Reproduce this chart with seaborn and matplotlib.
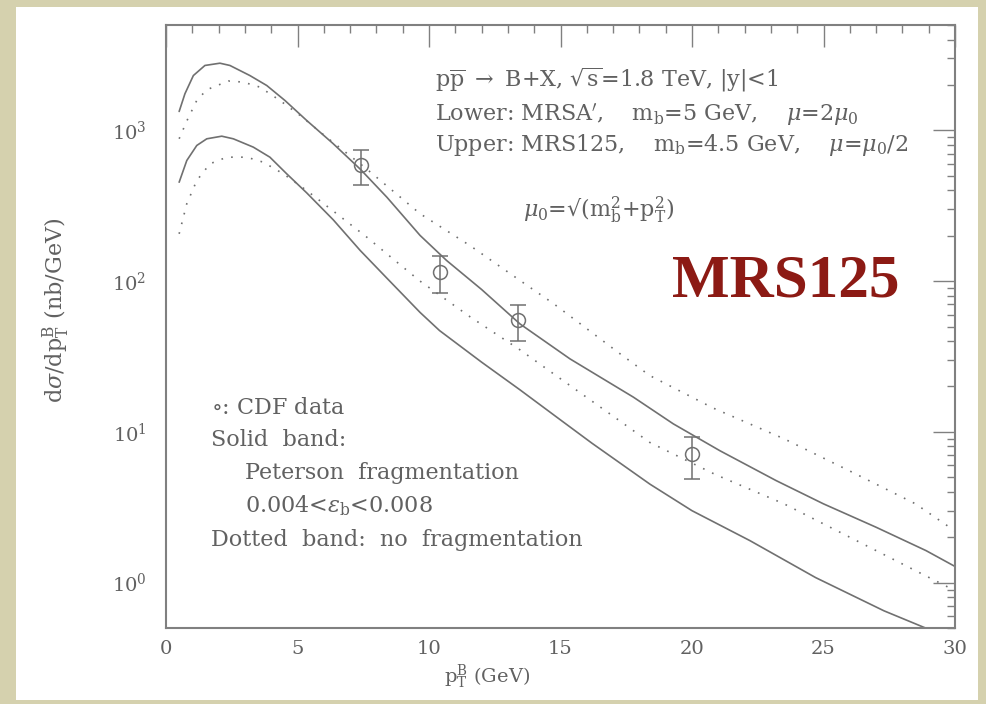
import numpy as np
import pandas as pd
import matplotlib
matplotlib.use("Agg")
import matplotlib.pyplot as plt
import seaborn as sns
from matplotlib.patches import Rectangle
from matplotlib.ticker import MultipleLocator, LogLocator, FuncFormatter, NullFormatter

# ---- theory bands (pT in GeV, dsigma/dpT in nb/GeV) ----
upper_solid_x = [0.5, 0.72, 1.04, 1.48, 2.05, 2.43, 3.19, 3.83, 4.52, 5.35, 6.35, 7.4, 8.4, 9.66,
                 10.67, 12.0, 13.46, 15.36, 17.77, 19.29, 21.06, 23.2, 25.0, 27.0, 28.9, 30.0]
upper_solid_y = [1335, 1750, 2310, 2695, 2790, 2695, 2310, 1985, 1580, 1163, 818, 550, 360, 201,
                 137, 88, 52, 30.5, 17, 11.3, 7.5, 4.75, 3.33, 2.33, 1.63, 1.28]

upper_dotted_x = [0.5, 0.8, 1.17, 1.55, 2.37, 2.94, 3.57, 4.33, 5.1, 6.1, 7.6, 8.6, 9.66, 11.56,
                  13.46, 14.73, 17.26, 18.4, 20.8, 23.5, 26.0, 28.5, 30.0]
upper_dotted_y = [880, 1163, 1580, 1860, 2125, 2090, 1936, 1580, 1256, 902, 560, 400, 280, 172,
                  101, 71, 33, 23.6, 14.4, 9.0, 5.5, 3.33, 2.2]

lower_solid_x = [0.5, 0.79, 1.17, 1.55, 2.12, 2.56, 3.32, 3.95, 4.59, 5.35, 6.36, 7.38, 8.39, 9.66,
                 10.4, 12.0, 13.46, 15.0, 16.2, 18.4, 20.0, 22.2, 24.7, 27.3, 29.0, 30.0]
lower_solid_y = [453, 631, 794, 879, 915, 879, 774, 664, 515, 385, 255, 160, 105, 62,
                 47, 29, 19, 12, 8.4, 4.5, 3.0, 1.9, 1.08, 0.65, 0.49, 0.42]

lower_dotted_x = [0.5, 0.79, 1.17, 1.67, 2.31, 3.07, 3.7, 4.46, 5.35, 6.49, 7.63, 8.64, 9.66,
                  11.56, 13.46, 15.0, 17.26, 18.4, 20.9, 23.5, 26.0, 28.5, 30.0]
lower_dotted_y = [206, 326, 465, 600, 664, 664, 615, 515, 399, 280, 196, 140, 100,
                  58, 35, 22.5, 11.8, 8.5, 5.2, 3.33, 2.0, 1.2, 0.885]

# ---- CDF measurements ----
cdf_x = [7.4, 10.4, 13.4, 20.0]
cdf_y = [585, 115, 55, 7.1]
cdf_lo = [437, 83, 40, 4.9]
cdf_hi = [736, 146, 69, 9.3]

sns.set_theme(style="white")
plt.rcParams["font.family"] = ["DejaVu Serif"]
plt.rcParams["mathtext.fontset"] = "dejavuserif"

ink = "#616161"
line_c = "#707070"

fig = plt.figure(figsize=(9.86, 7.04), dpi=100)
fig.patch.set_facecolor("#d5d1ae")
fig.add_artist(Rectangle((16 / 986, 4 / 704), (978 - 16) / 986, (700 - 7) / 704,
                         transform=fig.transFigure, facecolor="white", edgecolor="none", zorder=0))

L, R, T, B = 166, 955, 25, 628
ax = fig.add_axes([L / 986, 1 - B / 704, (R - L) / 986, (B - T) / 704])
ax.set_facecolor("white")
ax.set_yscale("log")

bands = [
    (upper_solid_x, upper_solid_y, "-"),
    (upper_dotted_x, upper_dotted_y, (0, (1, 5))),
    (lower_solid_x, lower_solid_y, "-"),
    (lower_dotted_x, lower_dotted_y, (0, (1, 5))),
]
for xs, ys, ls in bands:
    sns.lineplot(x=xs, y=ys, ax=ax, color=line_c, linestyle=ls, linewidth=1.2,
                 sort=False, estimator=None)

cdf = pd.DataFrame({"pt": cdf_x, "xs": cdf_y, "lo": cdf_lo, "hi": cdf_hi})
ax.errorbar(cdf["pt"], cdf["xs"], yerr=[cdf["xs"] - cdf["lo"], cdf["hi"] - cdf["xs"]],
            fmt="o", mfc="none", mec=line_c, ms=10, mew=1.1, color=line_c,
            elinewidth=1.1, capsize=6, capthick=1.1, zorder=5)

ax.set_xlim(0, 30)
ax.set_ylim(0.5, 5000)

ax.xaxis.set_major_locator(MultipleLocator(5))
ax.xaxis.set_minor_locator(MultipleLocator(1))
ax.xaxis.set_major_formatter(FuncFormatter(lambda v, p: f"{v:g}"))
ax.yaxis.set_major_locator(LogLocator(base=10, numticks=10))
ax.yaxis.set_minor_locator(LogLocator(base=10, subs=np.arange(2, 10), numticks=20))
ax.yaxis.set_minor_formatter(NullFormatter())
ax.yaxis.set_major_formatter(FuncFormatter(lambda v, p: rf"$10^{{{int(round(np.log10(v)))}}}$"))

ax.tick_params(which="both", direction="in", top=True, right=True, color="#808080",
               labelcolor=ink, width=1.0)
ax.tick_params(which="major", length=16, labelsize=14)
ax.tick_params(which="minor", length=5.5)
ax.tick_params(axis="x", which="major", pad=9)
ax.tick_params(axis="y", which="major", pad=14)
for s in ax.spines.values():
    s.set_color("#808080")
    s.set_linewidth(1.5)

ax.set_xlabel(r"p$_\mathrm{T}^\mathrm{B}$ (GeV)", fontsize=14, color=ink)
ax.xaxis.set_label_coords(0.4068, -0.058)
ax.set_ylabel(r"d$\sigma$/dp$_\mathrm{T}^\mathrm{B}$ (nb/GeV)", fontsize=16, color=ink)
ax.yaxis.set_label_coords(-0.119, 0.527)

fs = 16
header = [
    (0.3409, 0.9088, r"p$\overline{\mathrm{p}}$ $\rightarrow$ B+X, $\sqrt{\mathrm{s}}$=1.8 TeV, |y|<1"),
    (0.3409, 0.8507, r"Lower: MRSA$^{\prime}$,    m$_\mathrm{b}$=5 GeV,    $\mu$=2$\mu_0$"),
    (0.3409, 0.8010, r"Upper: MRS125,    m$_\mathrm{b}$=4.5 GeV,    $\mu$=$\mu_0$/2"),
    (0.4525, 0.6932, "$\\mu_0$=\u221a(m$_\\mathrm{b}^2$+p$_\\mathrm{T}^2$)"),
]
for x, y, s in header:
    ax.text(x, y, s, transform=ax.transAxes, ha="left", va="center", fontsize=fs, color=ink)

notes = [
    (0.0570, 0.3648, r"$\circ$: CDF data"),
    (0.0570, 0.3118, "Solid  band:"),
    (0.1001, 0.2570, "Peterson  fragmentation"),
    (0.1001, 0.2023, r"0.004<$\epsilon_\mathrm{b}$<0.008"),
    (0.0570, 0.1459, "Dotted  band:  no  fragmentation"),
]
for x, y, s in notes:
    ax.text(x, y, s, transform=ax.transAxes, ha="left", va="center", fontsize=fs, color=ink)

ax.text(0.785, 0.574, "MRS125", transform=ax.transAxes, ha="center", va="center",
        fontsize=44, fontweight="bold", family=["Liberation Serif", "DejaVu Serif"],
        color="#8c1a14")

fig.savefig("out.png", dpi=100, facecolor=fig.get_facecolor())
